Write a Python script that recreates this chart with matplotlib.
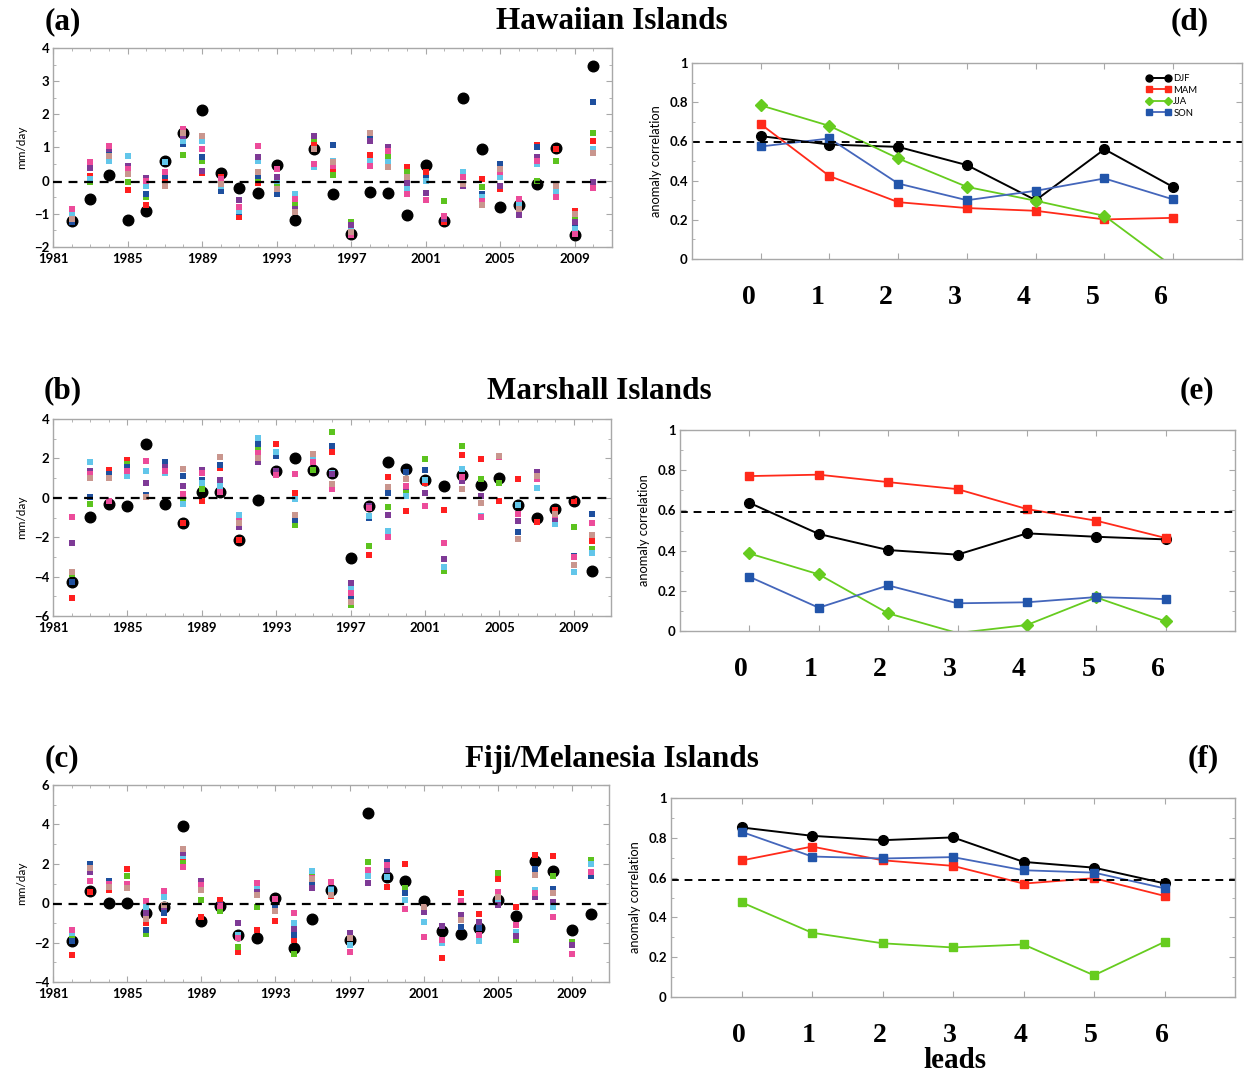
import numpy as np
import matplotlib
matplotlib.use('Agg')
import matplotlib.pyplot as plt
from matplotlib.ticker import MultipleLocator
from matplotlib.lines import Line2D
import matplotlib.transforms as mtrans

n = np.nan
years = np.arange(1982, 2011)

# ---- Hawaiian Islands: observed and ensemble members (mm/day)
haw_obs = [-1.21, -0.55, 0.16, -1.18, -0.91, 0.6, 1.44, 2.12, 0.23, -0.23, -0.37, 0.47, -1.18, 0.96, -0.41,
           -1.6, -0.34, -0.37, -1.04, 0.47, -1.23, 2.48, 0.96, -0.8, -0.73, -0.1, 0.97, -1.65, 3.46]
haw_red = [n, 0.15, n, -0.28, -0.72, -0.05, n, 0.22, 0.1, -1.1, -0.08, n, -0.65, 1.1, 0.25, n, 0.78, n, 0.42,
           0.27, -1.25, n, 0.05, -0.25, n, 1.08, 0.95, -0.9, 1.2]
haw_green = [n, -0.05, n, -0.05, -0.5, n, 0.78, 0.6, n, n, 0.02, -0.1, -0.7, 1.25, 0.17, -1.25, n, 0.72, 0.27,
             n, -0.6, n, -0.18, n, n, -0.02, 0.58, -1.15, 1.43]
haw_dblue = [-1.25, n, 0.9, n, -0.4, 0.15, 1.1, 0.72, -0.3, -0.95, 0.15, -0.4, n, 0.95, 1.07, n, 1.3, n, n,
             0.08, n, n, -0.4, 0.5, n, 1.0, n, -1.35, 2.38]
haw_lblue = [-1.0, 0.05, 0.6, 0.75, -0.15, 0.55, 1.2, 1.2, -0.15, -0.9, 0.58, 0.0, -0.4, 0.4, 0.6, -1.45, 0.6,
             0.55, -0.25, 0.0, n, 0.25, -0.5, 0.1, -0.72, 0.5, -0.32, -1.45, 0.95]
haw_purple = [n, 0.38, 0.95, 0.45, 0.08, -0.1, 1.35, 0.28, n, -0.58, 0.7, 0.1, -0.85, 1.35, n, -1.35, 1.2, 1.0,
              -0.08, -0.38, -1.15, -0.15, n, -0.17, -1.05, 0.7, n, -1.25, -0.05]
haw_pink = [-0.85, 0.55, 1.05, 0.35, 0.0, 0.25, 1.55, 0.95, 0.05, -0.8, 1.03, 0.35, -0.55, 0.5, 0.45, -1.65,
            0.45, 0.9, -0.4, -0.58, -1.07, 0.12, -0.62, 0.25, -0.55, 0.6, -0.48, -1.6, -0.23]
haw_tan = [-1.15, n, 0.75, 0.2, n, -0.15, 1.45, 1.35, -0.1, n, 0.25, -0.25, -0.95, 0.95, 0.55, -1.55, 1.45,
           0.4, 0.1, n, n, -0.1, -0.73, 0.35, -0.85, n, -0.15, -1.0, 0.82]

# ---- Marshall Islands
mar_obs = [-4.27, -0.95, -0.3, -0.4, 2.71, -0.3, -1.29, 0.27, 0.3, -2.13, -0.1, 1.37, 2.0, 1.39, 1.25, -3.07,
           -0.44, 1.83, 1.46, 0.88, 0.61, 1.15, 0.64, 1.03, -0.34, -1.05, -0.56, -0.14, -3.71]
mar_red = [-5.1, n, 1.4, 1.9, n, n, -1.29, -0.15, 1.5, -2.13, 1.8, 2.72, 0.25, n, 2.3, n, -2.9, 1.05, -0.65,
           0.75, -0.6, 2.15, 1.95, -0.18, 0.95, -1.25, -0.6, -0.14, -2.2]
mar_green = [-3.85, -0.3, n, 1.7, n, n, -0.1, 0.45, n, n, 2.45, n, -1.4, 1.4, 3.35, -5.45, -2.45, -0.45, 0.3,
             1.95, -3.7, 2.65, 0.95, 0.75, n, n, n, -1.5, -2.6]
mar_dblue = [-4.25, 0.02, 1.2, 1.55, 0.15, 1.8, 1.12, 0.92, 1.65, n, 2.75, 2.1, -1.12, n, 2.65, -5.15, -1.05,
             0.25, 1.3, 1.4, n, 0.9, n, n, -1.72, n, n, -2.95, -0.8]
mar_lblue = [n, 1.8, n, 1.1, 1.37, 1.25, -0.3, 0.75, 0.6, -0.85, 3.05, 2.3, -0.05, 2.05, 1.25, -4.6, -0.9,
             -1.7, 0.1, 0.88, -3.5, 1.45, -0.9, n, -0.34, 0.5, -1.35, -3.75, -2.8]
mar_purple = [-2.3, 1.35, n, n, 0.75, 1.55, 0.6, 1.4, 0.88, -1.5, 1.8, 1.37, n, n, 1.2, -4.3, -0.44, -0.85,
              0.55, 0.25, -3.1, 0.85, 0.1, n, -1.2, 1.3, -1.1, n, n]
mar_pink = [-0.95, 1.2, -0.15, 1.35, 1.85, 1.38, 0.18, 1.25, 0.3, -1.2, 2.25, 1.15, 1.2, 1.8, 0.45, -4.85,
            -0.5, -2.0, 0.6, -0.4, -2.3, 1.05, -0.95, 2.05, -0.8, 0.95, -0.85, -3.0, -1.3]
mar_tan = [-3.75, 1.0, 1.0, n, 0.05, n, 1.48, n, 2.08, -1.3, 2.0, n, -0.85, 2.2, 0.7, -5.3, n, 0.55, 0.95, n,
           n, 0.45, -0.25, 2.1, -2.1, 1.1, -0.8, -3.4, -1.9]

# ---- Fiji/Melanesia Islands
fij_obs = [-1.93, 0.63, 0.0, 0.0, -0.49, -0.19, 3.92, -0.92, -0.14, -1.63, -1.76, 0.27, -2.25, -0.78, 0.69,
           -1.86, 4.56, 1.32, 1.14, 0.1, -1.41, -1.56, -1.24, 0.14, -0.66, 2.15, 1.66, -1.36, -0.56]
fij_red = [-2.65, 0.55, 0.65, 1.75, -1.0, -0.9, 2.15, -0.7, 0.15, -2.5, -1.35, -0.9, -1.85, n, 0.35, n, n, 0.8,
           2.0, n, -2.8, 0.5, -0.55, 1.25, -0.2, 2.45, 2.42, n, n]
fij_green = [-1.7, n, n, 1.4, -1.55, n, 2.05, 0.15, -0.4, -2.2, -0.2, n, -2.6, 1.45, n, n, 2.1, n, 0.75, -0.3,
             n, n, n, 1.55, -1.85, n, 1.4, -1.95, 2.2]
fij_dblue = [-1.93, 2.0, 1.15, n, -1.35, -0.5, n, n, n, n, n, -0.15, -1.6, 1.1, 0.7, n, n, 2.1, 0.5, n, n,
             -1.2, -1.25, n, n, 1.75, 0.7, n, 1.4]
fij_lblue = [-1.5, n, n, n, -0.2, 0.3, 2.4, 1.0, n, -1.63, 0.85, n, -1.0, 1.65, 0.69, -2.1, 1.4, 1.32, 0.15,
             -0.95, -2.0, n, -1.9, 0.14, -1.45, 0.65, -0.2, n, 2.0]
fij_purple = [n, 1.6, n, n, -0.49, -0.19, 2.55, 1.15, -0.1, -1.0, 0.55, n, -1.3, 0.75, n, -1.5, 1.05, 1.7, n,
              -0.45, -1.15, -0.6, -0.95, -0.1, -1.65, 0.3, 0.05, -2.1, n]
fij_pink = [-1.35, 1.15, 0.95, 0.95, 0.1, 0.6, 1.85, 0.9, -0.15, -1.75, 1.05, 0.2, -0.5, 1.3, 1.1, -2.5, 1.7,
            1.95, -0.28, -1.7, -1.85, 0.1, -1.6, 0.55, -1.1, 0.5, -0.7, -2.6, 1.6]
fij_tan = [n, 1.8, 0.8, 0.75, -0.8, -0.1, 2.75, 0.65, n, n, 0.4, -0.38, n, 1.25, 0.4, -1.75, n, n, n, -0.2, n,
           -0.85, n, 0.3, n, 1.45, 0.5, n, n]

# ---- anomaly correlation vs lead
leads = np.arange(7)
d_djf = [0.627, 0.584, 0.572, 0.479, 0.30, 0.56, 0.367]
d_mam = [0.688, 0.423, 0.29, 0.26, 0.246, 0.202, 0.21]
d_jja = [0.784, 0.679, 0.513, 0.368, 0.297, 0.22, -0.04]
d_son = [0.574, 0.615, 0.385, 0.30, 0.348, 0.411, 0.304]

e_djf = [0.638, 0.483, 0.403, 0.38, 0.486, 0.469, 0.456]
e_mam = [0.771, 0.778, 0.741, 0.706, 0.607, 0.549, 0.463]
e_jja = [0.386, 0.282, 0.088, -0.01, 0.03, 0.167, 0.048]
e_son = [0.27, 0.116, 0.227, 0.138, 0.143, 0.169, 0.159]

f_djf = [0.852, 0.81, 0.788, 0.802, 0.679, 0.65, 0.571]
f_mam = [0.686, 0.756, 0.687, 0.659, 0.57, 0.597, 0.508]
f_jja = [0.476, 0.323, 0.27, 0.249, 0.264, 0.109, 0.277]
f_son = [0.83, 0.706, 0.696, 0.703, 0.637, 0.625, 0.546]

member_colors = ['#ff1f1f', '#5cc31e', '#1e4f9e', '#62c6ea', '#7e3a96', '#ec4b9a', '#c9968e']
spine_grey = '#a8a8a8'
tick_font = 'Lato'
serif = 'Liberation Serif'

fig = plt.figure(figsize=(12.47, 10.73), dpi=100)


def style_axes(ax):
    for sp in ax.spines.values():
        sp.set_color(spine_grey)
        sp.set_linewidth(1.0)
    ax.tick_params(which='both', direction='in', top=True, right=True, color=spine_grey)
    ax.tick_params(which='major', length=4)
    ax.tick_params(which='minor', length=2.5)


def draw_ts(rect, obs, members, ylim, major, zero):
    ax = fig.add_axes(rect)
    ax.scatter(years, obs, s=58, color='black', zorder=3)
    for vals, col in zip(members, member_colors):
        ax.scatter(years, vals, s=22, marker='s', color=col, linewidths=0, zorder=4)
    ax.axhline(zero, color='black', lw=1.6, ls=(0, (4, 3)), zorder=5)
    ax.set_xlim(1981, 2011)
    ax.set_ylim(*ylim)
    ax.set_xticks(np.arange(1981, 2011, 4))
    ax.xaxis.set_minor_locator(MultipleLocator(1))
    ax.yaxis.set_major_locator(MultipleLocator(major))
    ax.yaxis.set_minor_locator(MultipleLocator(major / 2))
    style_axes(ax)
    ax.tick_params(axis='y', labelsize=9.5, pad=2.5)
    ax.tick_params(axis='x', labelsize=9.5, pad=4)
    for lab in ax.get_xticklabels() + ax.get_yticklabels():
        lab.set_family(tick_font)
        lab.set_weight('bold')
    ax.set_ylabel('mm/day', fontsize=8.5, family=tick_font, labelpad=5)
    return ax


def draw_ac(rect, djf, mam, jja, son, jja_marker, thresh, shift, legend=False):
    ax = fig.add_axes(rect)
    ax.plot(leads, djf, color='black', lw=1.4, marker='o', ms=7)
    ax.plot(leads, mam, color='#ff2a1a', lw=1.3, marker='s', ms=5.5)
    jja = np.array(jja)
    ax.plot(leads, jja, color='#66cc1f', lw=1.3)
    ax.plot(leads, np.where(jja >= 0, jja, np.nan), color='#66cc1f', lw=0, marker=jja_marker,
            ms=5.5 if jja_marker == 's' else 6)
    ax.plot(leads, son, color='#4466bb', lw=1.3, marker='s', ms=5.5, mfc='#2255aa', mec='#2255aa')
    ax.axhline(thresh, color='black', lw=1.4, ls=(0, (4, 3)))
    ax.set_xlim(-1, 7)
    ax.set_ylim(0, 1)
    ax.set_xticks(leads)
    ax.set_xticklabels([str(v) for v in leads])
    ax.set_yticks([0, 0.2, 0.4, 0.6, 0.8, 1.0])
    ax.set_yticklabels(['0', '0.2', '0.4', '0.6', '0.8', '1'])
    ax.yaxis.set_minor_locator(MultipleLocator(0.1))
    style_axes(ax)
    ax.tick_params(axis='y', labelsize=9.5, pad=3)
    ax.tick_params(axis='x', labelsize=20, pad=19)
    off = mtrans.ScaledTranslation(shift / 100, 0, fig.dpi_scale_trans)
    for lab in ax.get_xticklabels():
        lab.set_family(serif)
        lab.set_weight('bold')
        lab.set_transform(lab.get_transform() + off)
    for lab in ax.get_yticklabels():
        lab.set_family(tick_font)
        lab.set_weight('bold')
    ax.set_ylabel('anomaly correlation', fontsize=9.3, family=tick_font, labelpad=5)
    if legend:
        handles = [Line2D([], [], color='black', lw=1.4, marker='o', ms=5),
                   Line2D([], [], color='#ff2a1a', lw=1.3, marker='s', ms=4.5),
                   Line2D([], [], color='#66cc1f', lw=1.3, marker='D', ms=4),
                   Line2D([], [], color='#4466bb', lw=1.3, marker='s', ms=4.5, mfc='#2255aa', mec='#2255aa')]
        ax.legend(handles, ['DJF', 'MAM', 'JJA', 'SON'], loc='upper left', bbox_to_anchor=(0.81, 0.985),
                  frameon=False, numpoints=2, handlelength=2.6, labelspacing=0.25, handletextpad=0.3,
                  prop={'family': tick_font, 'size': 6.8})
    return ax


draw_ts([0.0425, 0.7698, 0.4483, 0.1855], haw_obs,
        [haw_red, haw_green, haw_dblue, haw_lblue, haw_purple, haw_pink, haw_tan], (-2, 4), 1, -0.05)
draw_ts([0.0425, 0.4259, 0.4475, 0.1836], mar_obs,
        [mar_red, mar_green, mar_dblue, mar_lblue, mar_purple, mar_pink, mar_tan], (-6, 4), 2, -0.03)
draw_ts([0.0425, 0.0848, 0.4459, 0.1836], fij_obs,
        [fij_red, fij_green, fij_dblue, fij_lblue, fij_purple, fij_pink, fij_tan], (-4, 6), 2, -0.03)

draw_ac([0.5549, 0.7586, 0.4411, 0.1827], d_djf, d_mam, d_jja, d_son, 'D', 0.598, -12, legend=True)
draw_ac([0.5453, 0.4119, 0.4451, 0.1873], e_djf, e_mam, e_jja, e_son, 'D', 0.59, -8)
draw_ac([0.5381, 0.0708, 0.4523, 0.1855], f_djf, f_mam, f_jja, f_son, 's', 0.587, -3)

title_kw = dict(family=serif, weight='bold', fontsize=22.5, va='center', ha='center')
fig.text(0.050, 0.980, '(a)', **title_kw)
fig.text(0.491, 0.980, 'Hawaiian Islands', **title_kw)
fig.text(0.954, 0.980, '(d)', **title_kw)
fig.text(0.050, 0.6355, '(b)', **title_kw)
fig.text(0.481, 0.6355, 'Marshall Islands', **title_kw)
fig.text(0.960, 0.6355, '(e)', **title_kw)
fig.text(0.050, 0.2926, '(c)', **title_kw)
fig.text(0.491, 0.2926, 'Fiji/Melanesia Islands', **title_kw)
fig.text(0.965, 0.2926, '(f)', **title_kw)
fig.text(0.766, 0.012, 'leads', **dict(title_kw, fontsize=21))

fig.savefig('out.png', dpi=100)
